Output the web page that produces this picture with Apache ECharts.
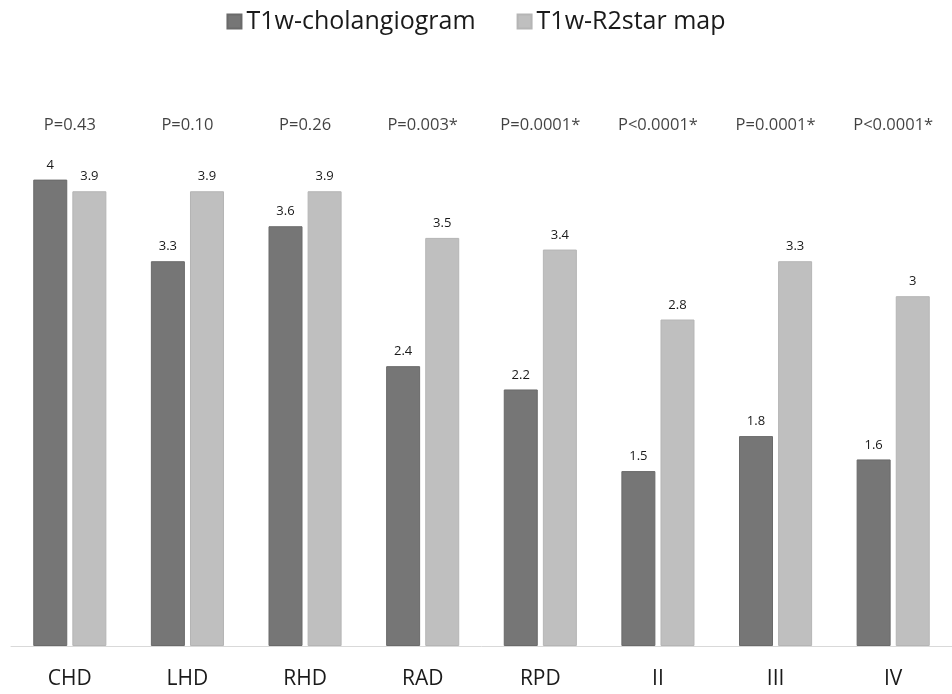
<!DOCTYPE html>
<html>
<head>
<meta charset="utf-8">
<script src="https://cdn.jsdelivr.net/npm/echarts@6/dist/echarts.min.js"></script>
<style>html,body{margin:0;padding:0;background:#fff;}#c{width:952px;height:694px;}</style>
</head>
<body>
<div id="c"></div>
<script>
const categories = ['CHD', 'LHD', 'RHD', 'RAD', 'RPD', 'II', 'III', 'IV'];
const cholangiogram = [4, 3.3, 3.6, 2.4, 2.2, 1.5, 1.8, 1.6];
const r2starMap = [3.9, 3.9, 3.9, 3.5, 3.4, 2.8, 3.3, 3];
const pLabels = ['P=0.43', 'P=0.10', 'P=0.26', 'P=0.003*', 'P=0.0001*', 'P<0.0001*', 'P=0.0001*', 'P<0.0001*'];
const pLabelLevel = 4.47;

const FONT = '"Open Sans", "Noto Sans", sans-serif';
const chart = echarts.init(document.getElementById('c'), null, {renderer: 'canvas'});
chart.setOption({
  animation: false,
  textStyle: {fontFamily: FONT},
  legend: {
    data: ['T1w-cholangiogram', 'T1w-R2star map'],
    top: 4,
    left: 'center',
    itemWidth: 14,
    itemHeight: 14,
    itemGap: 41,
    icon: 'rect',
    textStyle: {fontFamily: FONT, fontSize: 25, color: '#1a1a1a'}
  },
  grid: {left: 11, top: 63, width: 947, height: 583, containLabel: false},
  xAxis: {
    type: 'category',
    data: categories,
    axisLine: {lineStyle: {color: '#d9d9d9', width: 1}},
    axisTick: {show: false},
    axisLabel: {fontFamily: FONT, fontSize: 21, color: '#1a1a1a', margin: 23}
  },
  yAxis: {
    type: 'value',
    min: 0,
    max: 5,
    show: false,
    splitLine: {show: false}
  },
  series: [
    {
      name: 'T1w-cholangiogram',
      type: 'bar',
      data: cholangiogram,
      barWidth: 34,
      barGap: '15%',
      itemStyle: {color: '#767676', borderColor: '#6a6a6a', borderWidth: 1},
      label: {show: true, position: 'top', distance: 8, fontFamily: FONT, fontSize: 13, color: '#1a1a1a'}
    },
    {
      name: 'T1w-R2star map',
      type: 'bar',
      data: r2starMap,
      barWidth: 34,
      barGap: '15%',
      itemStyle: {color: '#bfbfbf', borderColor: '#b5b5b5', borderWidth: 1},
      label: {show: true, position: 'top', distance: 8, fontFamily: FONT, fontSize: 13, color: '#1a1a1a'}
    },
    {
      name: 'p',
      type: 'scatter',
      data: pLabels.map(function () { return pLabelLevel; }),
      symbolSize: 0,
      silent: true,
      label: {
        show: true,
        position: 'inside',
        formatter: function (p) { return pLabels[p.dataIndex]; },
        fontFamily: FONT, fontSize: 16.5, color: '#111'
      }
    }
  ]
});
</script>
</body>
</html>
